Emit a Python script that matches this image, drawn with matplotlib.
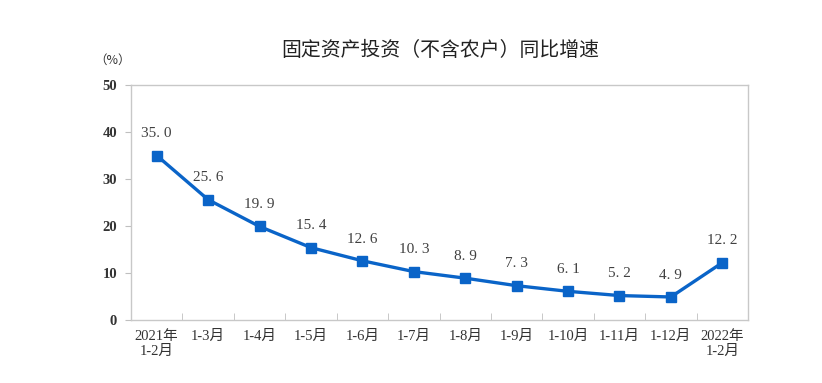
import numpy as np
import matplotlib.pyplot as plt
from matplotlib.ticker import FixedLocator

plt.rcParams['font.family'] = ['Liberation Serif', 'Noto Sans CJK SC', 'DejaVu Sans']

# data
months = ['2021年\n1-2月', '1-3月', '1-4月', '1-5月', '1-6月', '1-7月', '1-8月',
          '1-9月', '1-10月', '1-11月', '1-12月', '2022年\n1-2月']
growth = [35.0, 25.6, 19.9, 15.4, 12.6, 10.3, 8.9, 7.3, 6.1, 5.2, 4.9, 12.2]
yticks = [0, 10, 20, 30, 40, 50]

fig = plt.figure(figsize=(8.22, 3.83), dpi=100)
ax = fig.add_axes([0.1594, 0.1645, 0.7506, 0.6135])

x = np.arange(len(growth))
ax.plot(x, growth, color='#0a64c8', lw=2.4, marker='s', ms=7.5,
        solid_joinstyle='round')

for xi, v in zip(x, growth):
    ax.annotate(f'{v:.1f}'.replace('.', '. '), (xi, v), xytext=(0, 11),
                textcoords='offset points', ha='center', va='bottom',
                fontsize=11, color='#404040', family='Liberation Serif')

ax.set_xlim(-0.5, len(growth) - 0.5)
ax.set_ylim(0, 50)
ax.set_yticks(yticks)
ax.set_yticklabels([str(t) for t in yticks], fontsize=10.5, fontweight='bold',
                   color='#333333', family='Liberation Serif')
ax.set_xticks(x)
ax.set_xticklabels(months, fontsize=10.5, color='#333333',
                   family=['Liberation Serif', 'Noto Sans CJK SC'],
                   linespacing=1.2)
ax.xaxis.set_minor_locator(FixedLocator(np.arange(0.5, len(growth) - 1, 1)))
ax.tick_params(axis='x', which='major', length=0, pad=7)
ax.tick_params(axis='x', which='minor', direction='in', length=5,
               color='#bfbfbf')
ax.tick_params(axis='y', direction='out', length=4, color='#bfbfbf', pad=6)

for s in ax.spines.values():
    s.set_color('#c8c8c8')
    s.set_linewidth(1.0)

fig.text(0.535, 0.868, '固定资产投资（不含农户）同比增速', ha='center', va='center',
         fontsize=14.3, color='#222222', family='Noto Sans CJK SC')
fig.text(0.137, 0.843, '（%）', ha='center', va='center', fontsize=9,
         color='#333333', family='Noto Sans CJK SC')

fig.savefig('out.png', dpi=100)
